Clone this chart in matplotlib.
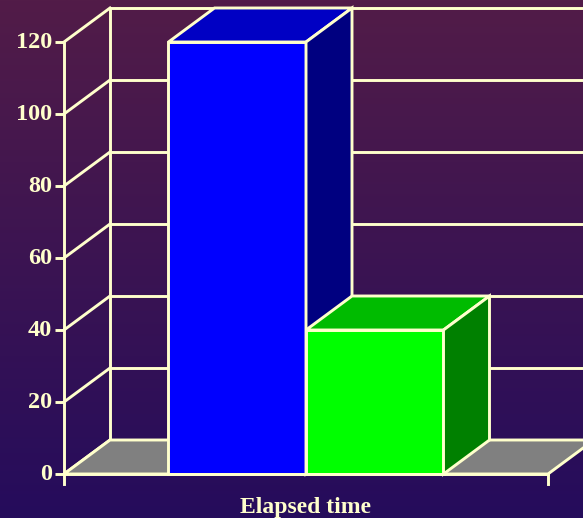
import numpy as np
import matplotlib
matplotlib.use("Agg")
import matplotlib.pyplot as plt
from matplotlib.patches import Polygon
from matplotlib.colors import LinearSegmentedColormap

# ---- data ----
category = "Elapsed time"
series_values = [120, 40]
series_front = ["#0000FF", "#00FF00"]
series_top = ["#0000C4", "#00BB00"]
series_side = ["#000080", "#008000"]
y_ticks = [0, 20, 40, 60, 80, 100, 120]

# ---- layout ----
W, H = 583, 518
fig = plt.figure(figsize=(W / 100, H / 100), dpi=100)
ax = fig.add_axes([0, 0, 1, 1])
px_per_unit = 3.6
y0_px = 474          # pixel row of value 0 (from top)
x0_px, x1_px = 64, 548
xs = 1.0 / (x1_px - x0_px)
ax.set_xlim(-x0_px * xs, (W - x0_px) * xs)
ax.set_ylim(-(H - y0_px) / px_per_unit, y0_px / px_per_unit)
ax.axis("off")

LC = "#FFFFCC"
LW = 2.1
dx = 46 * xs
dy = 34 / px_per_unit
ymax = y_ticks[-1]
xr = (W - x0_px + 20) * xs  # right extent of back wall (beyond figure)

# background gradient
grad = np.linspace(0, 1, 256).reshape(-1, 1)
cmap = LinearSegmentedColormap.from_list("bg", ["#250C5C", "#521C48"])
xl, yl = ax.get_xlim(), ax.get_ylim()
ax.imshow(grad, extent=[xl[0], xl[1], yl[0], yl[1]], origin="lower",
          cmap=cmap, aspect="auto", zorder=0)

# back wall grid lines & left wall diagonals
for t in y_ticks:
    ax.plot([dx, xr], [t + dy, t + dy], color=LC, lw=LW, zorder=1, solid_capstyle="butt")
    ax.plot([0, dx], [t, t + dy], color=LC, lw=LW, zorder=1)
    ax.plot([-9 * xs, 0], [t, t], color=LC, lw=LW, zorder=5, solid_capstyle="butt")
    ax.text(-12 * xs, t, str(t), color=LC, fontsize=17.5, fontweight="bold",
            family="Liberation Serif", ha="right", va="center", zorder=5)
ax.plot([dx, dx], [dy, ymax + dy], color=LC, lw=LW, zorder=1)

# floor
floor = Polygon([[0, 0], [1, 0], [1 + dx, dy], [dx, dy]], closed=True,
                facecolor="#808080", edgecolor=LC, lw=LW, zorder=2)
ax.add_patch(floor)

# bars
n = len(series_values)
bw = 137.5 * xs
center = 0.5
lefts = [center - n * bw / 2 + i * bw for i in range(n)]
for i, v in enumerate(series_values):
    l = lefts[i]
    r = l + bw
    ax.bar(l, v, width=bw, align="edge", color=series_front[i], edgecolor=LC,
           lw=LW, zorder=3 + i * 0.1)
    top = Polygon([[l, v], [r, v], [r + dx, v + dy], [l + dx, v + dy]], closed=True,
                  facecolor=series_top[i], edgecolor=LC, lw=LW, zorder=3 + i * 0.1)
    side = Polygon([[r, 0], [r + dx, dy], [r + dx, v + dy], [r, v]], closed=True,
                   facecolor=series_side[i], edgecolor=LC, lw=LW, zorder=3 + i * 0.1)
    ax.add_patch(top)
    ax.add_patch(side)

# front axes
ax.plot([0, 0], [-10 / px_per_unit, ymax], color=LC, lw=LW, zorder=5)
ax.plot([0, 1], [0, 0], color=LC, lw=LW, zorder=5)
ax.plot([1, 1], [-10 / px_per_unit, 0], color=LC, lw=LW, zorder=5)

ax.text(center, -33 / px_per_unit, category, color=LC, fontsize=17, fontweight="bold",
        family="Liberation Serif", ha="center", va="center", zorder=5)

fig.savefig("out.png", dpi=100)
